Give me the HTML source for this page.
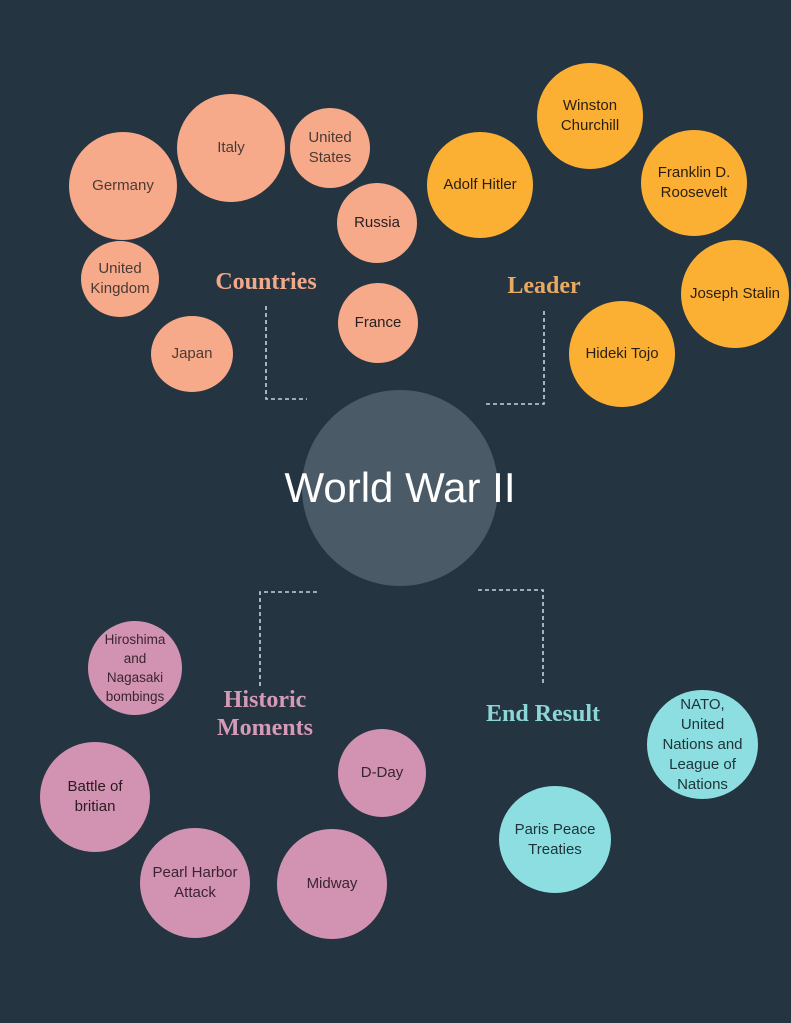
<!DOCTYPE html>
<html><head><meta charset="utf-8"><style>
body{margin:0;width:791px;height:1023px;background:#243441;position:relative;overflow:hidden;font-family:"Liberation Sans",sans-serif}
.c{position:absolute;border-radius:50%;display:flex;align-items:center;justify-content:center;text-align:center;font-size:15px;line-height:20px;color:#2a2020}
.p{background:#f7aa8a;color:#4a3a36}
.o{background:#fbb034;color:#2a1e10}
.k{background:#d293b2;color:#3a2430}
.t{background:#8cdee0;color:#1d3338}
.l{position:absolute;font-family:"Liberation Serif",serif;font-weight:bold;font-size:24px;text-align:center;line-height:28px}
</style></head><body>
<svg width="791" height="1023" style="position:absolute;left:0;top:0">
<g stroke="#c9d2d8" stroke-width="1.6" stroke-dasharray="4,3" fill="none">
<polyline points="266,306 266,399 307,399"/>
<polyline points="544,311 544,404 485,404"/>
<polyline points="317,592 260,592 260,686"/>
<polyline points="478,590 543,590 543,686"/>
</g>
<circle cx="400" cy="488" r="98" fill="#4a5a67"/>
</svg>
<div class="c" style="left:270px;top:458px;width:260px;height:60px;font-size:42px;color:#fff;line-height:60px">World War II</div>

<div class="c p" style="left:69px;top:132px;width:108px;height:108px">Germany</div>
<div class="c p" style="left:177px;top:94px;width:108px;height:108px">Italy</div>
<div class="c p" style="left:290px;top:108px;width:80px;height:80px">United<br>States</div>
<div class="c p" style="left:337px;top:183px;width:80px;height:80px;color:#2a2020">Russia</div>
<div class="c p" style="left:81px;top:241px;width:78px;height:76px">United<br>Kingdom</div>
<div class="c p" style="left:338px;top:283px;width:80px;height:80px;color:#2a2020">France</div>
<div class="c p" style="left:151px;top:316px;width:82px;height:76px">Japan</div>
<div class="l" style="left:186px;top:268px;width:160px;color:#f0a98a">Countries</div>

<div class="c o" style="left:537px;top:63px;width:106px;height:106px">Winston<br>Churchill</div>
<div class="c o" style="left:427px;top:132px;width:106px;height:106px">Adolf Hitler</div>
<div class="c o" style="left:641px;top:130px;width:106px;height:106px">Franklin D.<br>Roosevelt</div>
<div class="c o" style="left:681px;top:240px;width:108px;height:108px">Joseph Stalin</div>
<div class="c o" style="left:569px;top:301px;width:106px;height:106px">Hideki Tojo</div>
<div class="l" style="left:464px;top:272px;width:160px;color:#e8aa62">Leader</div>

<div class="c k" style="left:88px;top:621px;width:94px;height:94px;font-size:13.5px;line-height:19px">Hiroshima<br>and<br>Nagasaki<br>bombings</div>
<div class="c k" style="left:40px;top:742px;width:110px;height:110px;color:#2a1a20">Battle of<br>britian</div>
<div class="c k" style="left:140px;top:828px;width:110px;height:110px">Pearl Harbor<br>Attack</div>
<div class="c k" style="left:277px;top:829px;width:110px;height:110px">Midway</div>
<div class="c k" style="left:338px;top:729px;width:88px;height:88px">D-Day</div>
<div class="l" style="left:180px;top:686px;width:170px;color:#d49ab6">Historic<br>Moments</div>

<div class="c t" style="left:647px;top:690px;width:111px;height:109px">NATO,<br>United<br>Nations and<br>League of<br>Nations</div>
<div class="c t" style="left:499px;top:786px;width:112px;height:107px">Paris Peace<br>Treaties</div>
<div class="l" style="left:453px;top:700px;width:180px;color:#8cd6d8">End Result</div>
</body></html>
